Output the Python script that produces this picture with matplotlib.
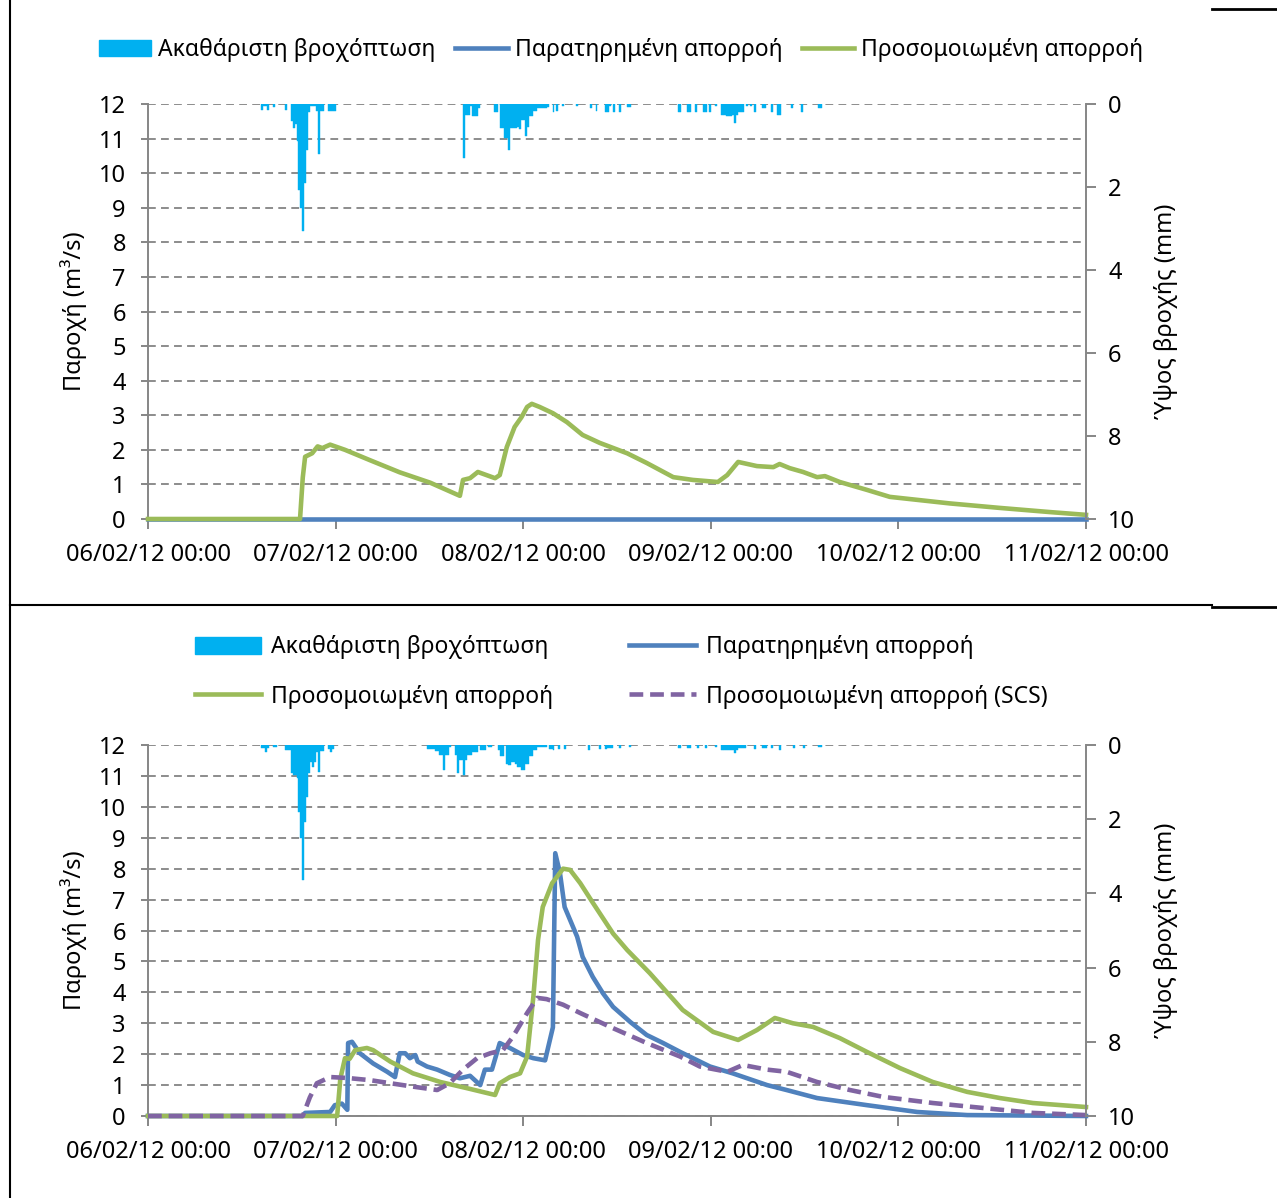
import matplotlib
matplotlib.use("Agg")
import matplotlib.pyplot as plt
from matplotlib.lines import Line2D
from matplotlib.patches import Patch

plt.rcParams['font.family'] = ['Noto Sans', 'DejaVu Sans']

# hours since 06/02/12 00:00
day_ticks = [0, 24, 48, 72, 96, 120]
day_labels = ["06/02/12 00:00", "07/02/12 00:00", "08/02/12 00:00",
              "09/02/12 00:00", "10/02/12 00:00", "11/02/12 00:00"]

# ---- top panel ----
rain_top_h = [14.5, 14.75, 15.0, 15.25, 16.0, 17.5, 18.25, 18.5, 18.75, 19.0,
              19.25, 19.5, 19.75, 20.0, 20.25, 20.5, 20.75, 21.0, 21.25, 21.5,
              21.75, 22.0, 22.25, 23.0, 23.25, 23.5, 23.75,
              40.25, 40.5, 40.75, 41.0, 41.25, 41.5, 41.75, 42.0, 42.25,
              44.25, 44.5, 45.0, 45.25, 45.5, 45.75, 46.0, 46.25, 46.5, 46.75,
              47.0, 47.25, 47.5, 47.75, 48.0, 48.25, 48.5, 48.75, 49.0, 49.25,
              49.5, 49.75, 50.0, 50.25, 50.5, 50.75, 51.0, 51.75, 52.25, 53.0,
              54.75, 56.5, 57.25, 58.5, 58.75, 59.0, 59.5, 60.25, 61.25, 61.5,
              67.75, 68.0, 69.0, 69.25, 70.0, 71.0, 71.25, 71.75, 72.5,
              73.25, 73.5, 73.75, 74.0, 74.25, 74.5, 74.75, 75.0, 75.25,
              75.5, 75.75, 76.0, 76.5, 77.0, 77.5, 78.5, 78.75, 79.75,
              80.5, 80.75, 82.25, 83.5, 85.75, 86.0]
rain_top_mm = [0.15, 0.04, 0.04, 0.15, 0.08, 0.15, 0.4, 0.58, 0.47, 0.9,
               2.07, 2.5, 3.06, 1.9, 1.1, 0.2, 0.05, 0.05, 0.05, 0.17,
               1.2, 0.17, 0.17, 0.17, 0.17, 0.17, 0.17,
               1.3, 0.27, 0.27, 0.27, 0.05, 0.3, 0.3, 0.3, 0.1,
               0.2, 0.2, 0.58, 0.58, 0.82, 0.82, 1.1, 0.58, 0.58, 0.58,
               0.58, 0.55, 0.6, 0.38, 0.38, 0.77, 0.55, 0.3, 0.3, 0.17,
               0.17, 0.1, 0.1, 0.1, 0.1, 0.1, 0.07, 0.2, 0.17, 0.05,
               0.05, 0.1, 0.17, 0.2, 0.2, 0.05, 0.2, 0.2, 0.07, 0.07,
               0.2, 0.2, 0.2, 0.2, 0.2, 0.2, 0.2, 0.2, 0.05,
               0.27, 0.27, 0.27, 0.3, 0.3, 0.3, 0.27, 0.45, 0.27,
               0.2, 0.2, 0.2, 0.05, 0.05, 0.2, 0.1, 0.1, 0.2,
               0.27, 0.27, 0.1, 0.2, 0.1, 0.1]

obs_top_h = [0, 120]
obs_top_q = [0, 0]

sim_top_h = [0, 19.45, 19.8, 20.1, 21.0, 21.7, 22.3, 23.3, 25.2, 28.4, 32.2,
             36.1, 39.9, 40.3, 41.2, 42.2, 44.4, 45.0, 45.9, 46.9, 47.8, 48.5,
             49.1, 50.1, 51.8, 53.6, 55.6, 57.8, 61.3, 63.8, 67.2, 69.7, 72.9,
             74.1, 75.5, 77.9, 80.0, 80.8, 82.1, 83.8, 85.6, 86.6, 88.5, 92.0,
             94.9, 102.6, 109.0, 115.4, 120.0]
sim_top_q = [0, 0, 1.2, 1.8, 1.9, 2.1, 2.05, 2.15, 2.0, 1.7, 1.35,
             1.05, 0.67, 1.13, 1.18, 1.36, 1.18, 1.27, 2.08, 2.66, 2.95, 3.24,
             3.33, 3.24, 3.06, 2.8, 2.43, 2.2, 1.9, 1.62, 1.21, 1.13, 1.07,
             1.27, 1.65, 1.53, 1.5, 1.59, 1.47, 1.36, 1.21, 1.24, 1.07, 0.84,
             0.64, 0.45, 0.32, 0.2, 0.12]

# ---- bottom panel ----
rain_bot_h = [14.5, 14.75, 15.0, 15.25, 16.0, 16.25, 17.5, 17.75, 18.0,
              18.25, 18.5, 18.75, 19.0, 19.25, 19.5, 19.75, 20.0, 20.25, 20.5,
              20.75, 21.0, 21.25, 21.5, 21.75, 22.0, 22.25, 23.0, 23.25, 23.5,
              35.75, 36.0, 36.25, 36.5, 36.75, 37.0, 37.25, 37.5, 37.75, 38.0,
              38.25, 38.5, 39.25, 39.5, 39.75, 40.0, 40.25, 40.5, 40.75, 41.0,
              41.25, 41.5, 41.75, 42.0, 42.5, 42.75, 43.0, 43.5, 43.75, 44.75,
              45.0, 45.25, 45.75, 46.0, 46.25, 46.5, 46.75, 47.0, 47.25, 47.5,
              47.75, 48.0, 48.25, 48.5, 48.75, 49.0, 49.25, 49.5, 49.75, 50.0,
              50.25, 50.5, 50.75, 51.25, 51.5, 51.75, 52.5, 53.25, 56.25, 57.75,
              58.5, 58.75, 59.0, 59.25, 60.25, 61.5,
              67.75, 68.0, 69.0, 69.25, 70.25, 71.25, 72.5, 73.25, 73.5, 73.75,
              74.0, 74.25, 74.5, 74.75, 75.0, 75.25, 75.5, 75.75, 76.0, 76.25,
              77.5, 78.5, 78.75, 79.0, 79.75, 80.75, 82.5, 83.75, 85.75, 86.0]
rain_bot_mm = [0.08, 0.08, 0.19, 0.08, 0.05, 0.05, 0.13, 0.13, 0.13,
               0.75, 0.8, 0.8, 0.89, 1.8, 2.5, 3.64, 2.07, 1.4, 0.75,
               0.45, 0.6, 0.45, 0.2, 0.73, 0.15, 0.15, 0.1, 0.2, 0.1,
               0.1, 0.1, 0.12, 0.12, 0.15, 0.15, 0.27, 0.27, 0.67, 0.27,
               0.27, 0.05, 0.27, 0.75, 0.4, 0.4, 0.8, 0.4, 0.27, 0.27,
               0.27, 0.2, 0.2, 0.2, 0.13, 0.13, 0.13, 0.05, 0.05, 0.13,
               0.3, 0.3, 0.5, 0.55, 0.55, 0.45, 0.45, 0.5, 0.6, 0.6,
               0.67, 0.67, 0.5, 0.5, 0.3, 0.3, 0.13, 0.13, 0.05, 0.05,
               0.05, 0.05, 0.05, 0.1, 0.1, 0.13, 0.1, 0.1, 0.13, 0.1,
               0.1, 0.08, 0.08, 0.08, 0.08, 0.05,
               0.08, 0.08, 0.08, 0.08, 0.08, 0.08, 0.05, 0.13, 0.13, 0.13,
               0.13, 0.13, 0.13, 0.13, 0.22, 0.13, 0.08, 0.08, 0.08, 0.08,
               0.1, 0.08, 0.08, 0.08, 0.08, 0.13, 0.08, 0.08, 0.05, 0.05]

obs_bot_h = [0, 19.8, 20.1, 23.3, 23.9, 24.8, 25.5, 25.6, 26.1, 27.1, 28.8,
             30.6, 31.6, 32.2, 32.9, 33.5, 34.2, 34.5, 35.7, 37.0, 38.6, 39.9,
             41.2, 42.5, 43.1, 44.0, 45.0, 46.3, 48.0, 49.3, 50.8, 51.2, 51.8,
             52.1, 52.7, 53.3, 54.0, 54.9, 55.6, 56.9, 58.2, 59.5, 61.7, 63.8,
             65.9, 68.1, 71.9, 74.8, 79.2, 81.7, 85.6, 92.0, 98.4, 104.8, 120.0]
obs_bot_q = [0, 0, 0.1, 0.13, 0.35, 0.4, 0.2, 2.36, 2.4, 2.03, 1.7,
             1.43, 1.26, 2.03, 2.03, 1.87, 1.97, 1.76, 1.6, 1.5, 1.33, 1.22,
             1.3, 1.0, 1.5, 1.5, 2.36, 2.2, 1.97, 1.87, 1.8, 2.23, 2.87,
             8.5, 7.86, 6.76, 6.34, 5.8, 5.15, 4.5, 3.97, 3.53, 3.04, 2.62,
             2.36, 2.07, 1.6, 1.38, 1.0, 0.84, 0.58, 0.35, 0.13, 0.03, 0]

sim_bot_h = [0, 24.2, 24.6, 25.2, 25.8, 26.5, 28.0, 28.8, 31.0, 33.9, 37.4,
             40.8, 44.4, 45.0, 46.3, 47.6, 48.5, 49.3, 49.9, 50.5, 51.7, 53.1,
             54.0, 55.3, 56.9, 59.5, 61.3, 64.2, 68.4, 72.3, 75.5, 77.9, 80.2,
             82.5, 85.1, 88.5, 92.0, 96.2, 100.4, 104.8, 109.0, 113.2, 120.0]
sim_bot_q = [0, 0, 1.2, 1.87, 1.85, 2.13, 2.2, 2.13, 1.76, 1.38, 1.1,
             0.9, 0.68, 1.06, 1.26, 1.38, 1.92, 3.86, 5.7, 6.76, 7.53, 8.0,
             7.96, 7.53, 6.9, 5.9, 5.37, 4.62, 3.43, 2.72, 2.46, 2.78, 3.17,
             3.0, 2.88, 2.52, 2.07, 1.55, 1.1, 0.78, 0.58, 0.42, 0.29]

scs_bot_h = [0, 19.8, 20.7, 21.6, 23.3, 25.5, 28.4, 31.0, 33.9, 37.0, 38.6,
             40.3, 42.1, 43.8, 45.4, 46.7, 48.5, 49.8, 51.0, 53.1, 55.3, 59.5,
             63.8, 68.1, 70.6, 74.1, 76.1, 79.2, 81.7, 85.6, 89.8, 94.0, 100.4,
             106.8, 113.2, 120.0]
scs_bot_q = [0, 0, 0.6, 1.06, 1.26, 1.23, 1.16, 1.06, 0.95, 0.84, 1.06,
             1.5, 1.87, 2.03, 2.13, 2.57, 3.33, 3.82, 3.78, 3.6, 3.33, 2.84,
             2.36, 1.92, 1.6, 1.43, 1.65, 1.5, 1.43, 1.1, 0.84, 0.62, 0.42,
             0.26, 0.1, 0.03]

lbl_rain = "Ακαθάριστη βροχόπτωση"
lbl_obs = "Παρατηρημένη απορροή"
lbl_sim = "Προσομοιωμένη απορροή"
lbl_scs = "Προσομοιωμένη απορροή (SCS)"

c_rain = '#00B0F0'
c_obs = '#4F81BD'
c_sim = '#9BBB59'
c_scs = '#8064A2'
c_axis = '#868686'
fs_tick = 17
fs_leg = 16.5
fs_lab = 17

W, H = 1277, 1198
fig = plt.figure(figsize=(W / 100, H / 100), dpi=100)


def panel(top_px, bot_px):
    ax = fig.add_axes([148 / W, 1 - bot_px / H, 938 / W, (bot_px - top_px) / H])
    ax.set_xlim(0, 120)
    ax.set_ylim(0, 12)
    ax.set_yticks(range(13))
    ax.set_xticks(day_ticks)
    ax.set_xticklabels(day_labels)
    ax.grid(axis='y', color='#8c8c8c', linestyle=(0, (4, 2.7)), linewidth=1.4)
    ax.set_axisbelow(True)
    for s in ['top', 'right']:
        ax.spines[s].set_visible(False)
    for s in ['left', 'bottom']:
        ax.spines[s].set_color(c_axis)
        ax.spines[s].set_linewidth(1.4)
    ax.tick_params(axis='y', direction='out', length=5, width=1.4, color=c_axis,
                   labelsize=fs_tick, pad=11)
    ax.tick_params(axis='x', direction='out', length=7, width=1.4, color=c_axis,
                   labelsize=fs_tick, pad=10)
    ax.set_ylabel("Παροχή (m³/s)", fontsize=fs_lab)
    ax.yaxis.set_label_coords(-0.065, 0.5)

    ax2 = ax.twinx()
    ax2.set_ylim(10, 0)
    ax2.set_yticks([0, 2, 4, 6, 8, 10])
    for s in ['top', 'left', 'bottom']:
        ax2.spines[s].set_visible(False)
    ax2.spines['right'].set_color(c_axis)
    ax2.spines['right'].set_linewidth(1.4)
    ax2.tick_params(axis='y', direction='out', length=7, width=1.4, color=c_axis,
                    labelsize=fs_tick, pad=9)
    ax2.set_ylabel("Ύψος βροχής (mm)", fontsize=fs_lab, rotation=90)
    ax2.yaxis.set_label_coords(1.073, 0.5)
    return ax, ax2


# top panel  (lines above the gray axis line, like in excel)
ax, ax2 = panel(104, 519)
ax.plot(obs_top_h, obs_top_q, color=c_obs, lw=3.3, zorder=3, clip_on=False)
ax.plot(sim_top_h, sim_top_q, color=c_sim, lw=3.3, zorder=3, clip_on=False)
ax2.bar(rain_top_h, rain_top_mm, width=0.25, align='edge', color=c_rain,
        edgecolor=c_rain, linewidth=0.3)

h_rain = Patch(facecolor=c_rain, edgecolor=c_rain)
h_obs = Line2D([], [], color=c_obs, lw=3.3)
h_sim = Line2D([], [], color=c_sim, lw=3.3)
h_scs = Line2D([], [], color=c_scs, lw=3.3, linestyle=(0, (3, 1.5)))

fig.legend([h_rain, h_obs, h_sim], [lbl_rain, lbl_obs, lbl_sim], ncol=3,
           loc='center', bbox_to_anchor=(621 / W, 1 - 50 / H), frameon=False,
           fontsize=fs_leg, handlelength=2.3, handletextpad=0.3, columnspacing=0.85,
           handleheight=0.7)

# bottom panel
bx, bx2 = panel(745, 1116)
bx.plot(obs_bot_h, obs_bot_q, color=c_obs, lw=3.3, zorder=3, clip_on=False)
bx.plot(sim_bot_h, sim_bot_q, color=c_sim, lw=3.3, zorder=3, clip_on=False)
bx.plot(scs_bot_h, scs_bot_q, color=c_scs, lw=3.3, linestyle=(0, (3, 1.5)),
        zorder=3, clip_on=False)
bx2.bar(rain_bot_h, rain_bot_mm, width=0.25, align='edge', color=c_rain,
        edgecolor=c_rain, linewidth=0.3)

fig.legend([h_rain, h_sim, h_obs, h_scs], [lbl_rain, lbl_sim, lbl_obs, lbl_scs],
           ncol=2, loc='center', bbox_to_anchor=(621 / W, 1 - 672 / H),
           frameon=False, fontsize=fs_leg, handlelength=2.9, handletextpad=0.44,
           columnspacing=3.3, labelspacing=1.1, handleheight=0.75)

# table borders around the two charts
def seg(x0, y0, x1, y1, lw=1.5):
    fig.add_artist(Line2D([x0 / W, x1 / W], [1 - y0 / H, 1 - y1 / H],
                          color='black', lw=lw))

seg(10, 0, 10, H)
seg(10, 605, 1212, 605)
seg(1212, 607, W, 607, lw=2)
seg(1212, 9, W, 9, lw=2)

plt.savefig('out.png', dpi=100)
